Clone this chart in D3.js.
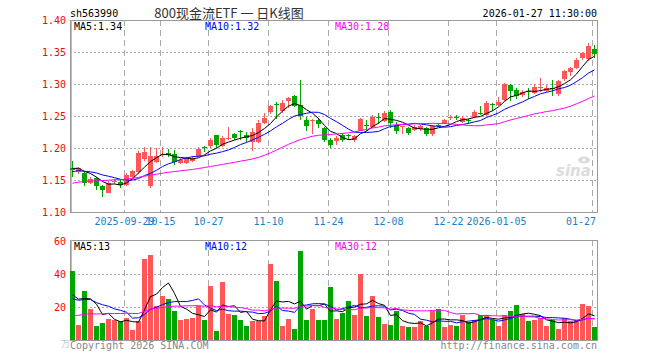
<!DOCTYPE html>
<html>
<head>
<meta charset="utf-8">
<script src="https://cdn.jsdelivr.net/npm/d3@7"></script>
<style>
    body { margin: 0; background: #fff; }
    svg text { font-family: "DejaVu Sans Mono", monospace; font-size: 10px; }
</style>
</head>
<body>
<div id="chart"></div>
<script>
// trading days shown on the chart
var dates = [
    "2025-09-16", "2025-09-17", "2025-09-18", "2025-09-19", "2025-09-22", "2025-09-23", "2025-09-24", "2025-09-25", "2025-09-26", "2025-09-29", "2025-09-30",
    "2025-10-09", "2025-10-10", "2025-10-13", "2025-10-14", "2025-10-15", "2025-10-16", "2025-10-17", "2025-10-20", "2025-10-21", "2025-10-22", "2025-10-23", "2025-10-24", "2025-10-27", "2025-10-28", "2025-10-29", "2025-10-30", "2025-10-31",
    "2025-11-03", "2025-11-04", "2025-11-05", "2025-11-06", "2025-11-07", "2025-11-10", "2025-11-11", "2025-11-12", "2025-11-13", "2025-11-14", "2025-11-17", "2025-11-18", "2025-11-19", "2025-11-20", "2025-11-21", "2025-11-24", "2025-11-25", "2025-11-26", "2025-11-27", "2025-11-28",
    "2025-12-01", "2025-12-02", "2025-12-03", "2025-12-04", "2025-12-05", "2025-12-08", "2025-12-09", "2025-12-10", "2025-12-11", "2025-12-12", "2025-12-15", "2025-12-16", "2025-12-17", "2025-12-18", "2025-12-19", "2025-12-22", "2025-12-23", "2025-12-24", "2025-12-25", "2025-12-26", "2025-12-29", "2025-12-30", "2025-12-31",
    "2026-01-05", "2026-01-06", "2026-01-07", "2026-01-08", "2026-01-09", "2026-01-12", "2026-01-13", "2026-01-14", "2026-01-15", "2026-01-16", "2026-01-19", "2026-01-20", "2026-01-21", "2026-01-22", "2026-01-23", "2026-01-26", "2026-01-27"
];

var opens = [
    1.169, 1.162, 1.161, 1.146, 1.153, 1.140, 1.131, 1.147, 1.147, 1.143, 1.155,
    1.162, 1.182, 1.140, 1.179, 1.189, 1.192, 1.190, 1.177, 1.177, 1.180, 1.188, 1.201, 1.202, 1.220, 1.203, 1.214, 1.222,
    1.227, 1.220, 1.210, 1.210, 1.239, 1.256, 1.269, 1.257, 1.273, 1.282, 1.267, 1.244, 1.241, 1.243, 1.231, 1.213, 1.210, 1.221, 1.220, 1.212,
    1.228, 1.236, 1.234, 1.248, 1.242, 1.257, 1.236, 1.233, 1.231, 1.229, 1.230, 1.231, 1.221, 1.236, 1.239, 1.246, 1.248, 1.241, 1.243, 1.249, 1.255, 1.252, 1.269,
    1.268, 1.275, 1.299, 1.291, 1.283, 1.289, 1.287, 1.293, 1.289, 1.293, 1.284, 1.307, 1.319, 1.325, 1.341, 1.338, 1.354
];
var highs = [
    1.180, 1.170, 1.164, 1.155, 1.155, 1.142, 1.148, 1.152, 1.152, 1.161, 1.166,
    1.195, 1.202, 1.202, 1.200, 1.202, 1.198, 1.197, 1.184, 1.186, 1.187, 1.201, 1.203, 1.215, 1.221, 1.218, 1.233, 1.224,
    1.228, 1.225, 1.232, 1.243, 1.255, 1.267, 1.272, 1.275, 1.280, 1.283, 1.307, 1.248, 1.246, 1.247, 1.233, 1.215, 1.218, 1.224, 1.222, 1.221,
    1.247, 1.244, 1.251, 1.254, 1.258, 1.259, 1.240, 1.234, 1.233, 1.236, 1.236, 1.233, 1.236, 1.239, 1.246, 1.251, 1.251, 1.250, 1.246, 1.259, 1.265, 1.274, 1.271,
    1.280, 1.302, 1.300, 1.293, 1.290, 1.293, 1.300, 1.309, 1.299, 1.307, 1.306, 1.322, 1.327, 1.340, 1.350, 1.364, 1.361
];
var lows = [
    1.154, 1.160, 1.140, 1.143, 1.135, 1.123, 1.130, 1.144, 1.138, 1.141, 1.153,
    1.160, 1.180, 1.138, 1.176, 1.186, 1.186, 1.174, 1.175, 1.175, 1.178, 1.186, 1.193, 1.200, 1.200, 1.201, 1.212, 1.213,
    1.213, 1.210, 1.195, 1.208, 1.237, 1.253, 1.245, 1.255, 1.262, 1.264, 1.244, 1.227, 1.222, 1.232, 1.210, 1.200, 1.205, 1.209, 1.212, 1.210,
    1.226, 1.226, 1.232, 1.237, 1.240, 1.232, 1.222, 1.222, 1.221, 1.226, 1.226, 1.218, 1.219, 1.233, 1.237, 1.244, 1.243, 1.239, 1.238, 1.247, 1.251, 1.250, 1.258,
    1.265, 1.274, 1.274, 1.276, 1.280, 1.277, 1.285, 1.288, 1.287, 1.281, 1.282, 1.305, 1.313, 1.323, 1.338, 1.336, 1.341
];
var closes = [
    1.166, 1.168, 1.146, 1.152, 1.140, 1.133, 1.146, 1.148, 1.143, 1.158, 1.164,
    1.192, 1.193, 1.187, 1.188, 1.191, 1.189, 1.177, 1.181, 1.183, 1.184, 1.199, 1.199, 1.212, 1.204, 1.215, 1.216, 1.215,
    1.2265, 1.215, 1.225, 1.239, 1.247, 1.265, 1.267, 1.270, 1.278, 1.267, 1.250, 1.234, 1.243, 1.236, 1.213, 1.205, 1.215, 1.213, 1.219, 1.219,
    1.246, 1.234, 1.249, 1.246, 1.255, 1.240, 1.226, 1.234, 1.223, 1.233, 1.234, 1.222, 1.234, 1.235, 1.244, 1.248, 1.246, 1.247, 1.242, 1.257, 1.254, 1.270, 1.268,
    1.272, 1.300, 1.289, 1.282, 1.287, 1.288, 1.296, 1.295, 1.293, 1.291, 1.304, 1.320, 1.325, 1.338, 1.349, 1.359, 1.346
];
// volume, in 万
var volumes = [
    41.6, 9.3, 29.9, 19, 8.7, 10.3, 12.9, 11.9, 11.3, 13.3, 6.2,
    11.3, 49.3, 51.3, 20.8, 26.4, 25, 17.8, 11.9, 12.7, 13.3, 20.8, 12.3, 32.5, 5.6, 34.9, 15.9, 14.9,
    12.3, 8.7, 11.3, 11.3, 14.3, 46, 35.5, 8.2, 12.9, 6.8, 53.7, 11.9, 19, 12.3, 12.3, 31.9, 12.9, 16.4, 23.4, 15.3,
    40.2, 14.3, 26.8, 13.9, 9.9, 9.3, 17.3, 8.2, 7.6, 7.6, 11.3, 8.2, 17.3, 19, 7.6, 8.9, 8.2, 15.3, 10.9, 11.9, 15.3, 15.3, 11.9,
    8.7, 15.3, 17.3, 21.4, 15.9, 11.3, 11.9, 13.3, 8.7, 11.9, 6.8, 13.3, 11.3, 11.9, 22, 20.4, 7.6
];
// sessions before the first visible day, only used to start the moving averages
var priorCloses = [
    1.118, 1.122, 1.125, 1.121, 1.128, 1.131, 1.127, 1.133, 1.136, 1.134, 1.139, 1.142, 1.138, 1.141, 1.145,
    1.143, 1.147, 1.146, 1.151, 1.153, 1.152, 1.156, 1.160, 1.158, 1.164, 1.166, 1.171, 1.168, 1.169
];
var priorVolumes = [
    8, 11, 9, 12, 7, 10, 9, 13, 8, 11, 10, 9, 12, 8, 10,
    11, 9, 10, 7, 13, 18, 25, 20, 27, 23, 22, 28, 20, 25
];

var tickDates = ["2025-09-29", "2025-10-15", "2025-10-27", "2025-11-10", "2025-11-24", "2025-12-08", "2025-12-22", "2026-01-05", "2026-01-27"];
var tickLabels = ["2025-09-29", "10-15", "10-27", "11-10", "11-24", "12-08", "12-22", "2026-01-05", "01-27"];
var priceTicks = [1.10, 1.15, 1.20, 1.25, 1.30, 1.35, 1.40];
var volumeTicks = [20, 40, 60];
var maLabels = ["MA5:1.34", "MA10:1.32", "MA30:1.28"];
var volMaLabels = ["MA5:13", "MA10:12", "MA30:12"];

var RED = "#ff5757", GREEN = "#00a600", GRID = "#aaaaaa";
var maColors = ["#000000", "#0000ff", "#ff00ff"];
var maPeriods = [5, 10, 30];

function movingAvg(series, prior, n) {
    var all = prior.concat(series);
    return series.map(function (d, i) {
        var end = prior.length + i;
        return d3.mean(all.slice(end - n + 1, end + 1));
    });
}

var width = 660, height = 360;
var left = 70, right = 598;
var pTop = 20, pBottom = 212;
var vTop = 240, vBottom = 340;

var svg = d3.select("#chart").append("svg")
    .attr("width", width)
    .attr("height", height);

var x = d3.scaleBand().domain(dates).range([left, right]).padding(0);
var y = d3.scaleLinear().domain([1.10, 1.40]).range([pBottom, pTop]);
var vy = d3.scaleLinear().domain([0, 60]).range([vBottom, vTop + 1]);

var data = dates.map(function (d, i) {
    return { date: d, open: opens[i], high: highs[i], low: lows[i], close: closes[i], volume: volumes[i] };
});
function colorOf(d) { return d.close >= d.open ? RED : GREEN; }

// header texts
svg.append("text").attr("x", left).attr("y", 17).attr("fill", "#000").text("sh563990");
svg.append("text").attr("x", 229).attr("y", 18).attr("text-anchor", "middle")
    .style("font-family", "'Noto Sans CJK SC', sans-serif").style("font-size", "13px")
    .attr("fill", "#333").text("800现金流ETF 一 日K线图");
svg.append("text").attr("x", 597).attr("y", 17).attr("text-anchor", "end").attr("fill", "#000")
    .text("2026-01-27 11:30:00");

// watermark
var logo = svg.append("g").attr("transform", "translate(556,176)").attr("fill", "#dcdcdc");
logo.append("text").style("font-family", "'DejaVu Sans', sans-serif").style("font-size", "15px")
    .style("font-style", "italic").style("font-weight", "bold").text("sina");
logo.append("ellipse").attr("cx", 28).attr("cy", -16).attr("rx", 6).attr("ry", 3.5);
logo.append("circle").attr("cx", 28).attr("cy", -16).attr("r", 1.6).attr("fill", "#fff");

// grids for both panels
var grid = svg.append("g").attr("shape-rendering", "crispEdges");
grid.selectAll(".ph").data(priceTicks.slice(1, -1)).enter().append("line")
    .attr("x1", left).attr("x2", right - 1)
    .attr("y1", function (d) { return Math.round(y(d)) + 0.5; })
    .attr("y2", function (d) { return Math.round(y(d)) + 0.5; })
    .attr("stroke", GRID).attr("stroke-dasharray", "2,2");
grid.selectAll(".vh").data(volumeTicks.slice(0, -1)).enter().append("line")
    .attr("x1", left).attr("x2", right - 1)
    .attr("y1", function (d) { return Math.round(vy(d)) + 0.5; })
    .attr("y2", function (d) { return Math.round(vy(d)) + 0.5; })
    .attr("stroke", GRID).attr("stroke-dasharray", "2,2");
[[pTop, pBottom], [vTop, vBottom]].forEach(function (r) {
    grid.selectAll(null).data(tickDates).enter().append("line")
        .attr("x1", function (d) { return x(d) + 0.5; })
        .attr("x2", function (d) { return x(d) + 0.5; })
        .attr("y1", r[0]).attr("y2", r[1])
        .attr("stroke", GRID).attr("stroke-dasharray", "6,4");
});

// frames
[[pTop, pBottom], [vTop, vBottom]].forEach(function (r) {
    svg.append("rect").attr("x", left + 0.5).attr("y", r[0] + 0.5)
        .attr("width", right - left - 1).attr("height", r[1] - r[0])
        .attr("fill", "none").attr("stroke", "#999").attr("shape-rendering", "crispEdges");
    svg.append("line").attr("x1", left + 1.5).attr("x2", left + 1.5).attr("y1", r[0]).attr("y2", r[1])
        .attr("stroke", "#bbb").attr("shape-rendering", "crispEdges");
});

// y axes
var yAxis = svg.append("g").attr("transform", "translate(" + left + ",0)")
    .call(d3.axisLeft(y).tickValues(priceTicks).tickFormat(d3.format(".2f")).tickSize(0).tickPadding(4));
yAxis.select(".domain").remove();
yAxis.selectAll("text").attr("fill", "#ff0000").style("font-family", "'DejaVu Sans Mono', monospace").style("font-size", "10px");

var vAxis = svg.append("g").attr("transform", "translate(" + left + ",0)")
    .call(d3.axisLeft(vy).tickValues(volumeTicks).tickSize(0).tickPadding(4));
vAxis.select(".domain").remove();
vAxis.selectAll("text").attr("fill", "#ff0000").style("font-family", "'DejaVu Sans Mono', monospace").style("font-size", "10px");
svg.append("text").attr("x", 61).attr("y", 347).attr("fill", "#c8c8c8")
    .style("font-family", "'Noto Sans CJK SC', sans-serif").style("font-size", "9px").text("万");

// x labels
svg.selectAll(".xl").data(tickDates).enter().append("text")
    .attr("x", function (d, i) {
        var w = tickLabels[i].length * 6.02;
        return Math.min(x(d) + 0.5, 596 - w / 2);
    })
    .attr("y", 225).attr("text-anchor", "middle").attr("fill", "#1a7fc8")
    .text(function (d, i) { return tickLabels[i]; });

// candles
var candles = svg.append("g").attr("shape-rendering", "crispEdges");
candles.selectAll(".wick").data(data).enter().append("line")
    .attr("x1", function (d) { return x(d.date) + 2.5; })
    .attr("x2", function (d) { return x(d.date) + 2.5; })
    .attr("y1", function (d) { return y(d.high); })
    .attr("y2", function (d) { return y(d.low); })
    .attr("stroke", colorOf);
candles.selectAll(".body").data(data).enter().append("rect")
    .attr("x", function (d) { return x(d.date); })
    .attr("width", x.bandwidth() - 1)
    .attr("y", function (d) { return Math.round(y(Math.max(d.open, d.close))); })
    .attr("height", function (d) { return Math.max(1, Math.round(Math.abs(y(d.open) - y(d.close)))); })
    .attr("fill", colorOf);

// volume bars
svg.append("g").attr("shape-rendering", "crispEdges")
    .selectAll("rect").data(data).enter().append("rect")
    .attr("x", function (d) { return x(d.date); })
    .attr("width", x.bandwidth() - 1)
    .attr("y", function (d) { return Math.round(vy(d.volume)); })
    .attr("height", function (d) { return vBottom - Math.round(vy(d.volume)); })
    .attr("fill", colorOf);

// moving average lines
maPeriods.forEach(function (n, k) {
    var pm = movingAvg(closes, priorCloses, n);
    var vm = movingAvg(volumes, priorVolumes, n);
    var line = d3.line().x(function (d, i) { return x(dates[i]) + 2.5; });
    svg.append("path").datum(pm)
        .attr("d", line.y(function (d) { return y(d); }))
        .attr("fill", "none").attr("stroke", maColors[k]).attr("stroke-width", 1);
    svg.append("path").datum(vm)
        .attr("d", line.y(function (d) { return vy(d); }))
        .attr("fill", "none").attr("stroke", maColors[k]).attr("stroke-width", 1);
});

// legends
var legendX = [74, 205, 335];
maLabels.forEach(function (t, k) {
    svg.append("text").attr("x", legendX[k]).attr("y", 30).attr("fill", maColors[k]).text(t);
});
volMaLabels.forEach(function (t, k) {
    svg.append("text").attr("x", legendX[k]).attr("y", 250).attr("fill", maColors[k]).text(t);
});

// footer
svg.append("text").attr("x", left).attr("y", 349).attr("fill", "#888").text("Copyright 2026 SINA.COM");
svg.append("text").attr("x", 597).attr("y", 349).attr("text-anchor", "end").attr("fill", "#888").text("http://finance.sina.com.cn");
</script>
</body>
</html>
